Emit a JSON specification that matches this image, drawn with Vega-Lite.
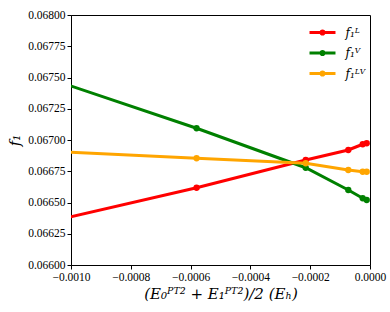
{
  "$schema": "https://vega.github.io/schema/vega-lite/v6.json",
  "width": 299,
  "height": 250,
  "autosize": {"type": "none"},
  "padding": {"left": 71, "top": 15, "right": 20, "bottom": 47},
  "background": "white",
  "config": {
    "view": {"stroke": "black", "strokeWidth": 1},
    "axis": {
      "grid": false,
      "domainColor": "black",
      "tickColor": "black",
      "tickSize": 4,
      "labelColor": "black",
      "labelFont": "Liberation Serif",
      "labelFontSize": 11.5,
      "labelPadding": 2,
      "labelFlush": false,
      "titleColor": "black",
      "titleFont": "DejaVu Serif",
      "titleFontWeight": "normal",
      "titleFontStyle": "italic",
      "titleFontSize": 15
    }
  },
  "data": {
    "values": [
      {"x": -0.0015, "y": 0.06611, "s": "f₁ᴸ"},
      {"x": -0.00058, "y": 0.066618, "s": "f₁ᴸ"},
      {"x": -0.000215, "y": 0.06684, "s": "f₁ᴸ"},
      {"x": -0.0000726, "y": 0.06692, "s": "f₁ᴸ"},
      {"x": -0.0000244, "y": 0.066966, "s": "f₁ᴸ"},
      {"x": -0.000011, "y": 0.066974, "s": "f₁ᴸ"},
      {"x": -0.0015, "y": 0.067834, "s": "f₁ⱽ"},
      {"x": -0.00058, "y": 0.067094, "s": "f₁ⱽ"},
      {"x": -0.000215, "y": 0.066778, "s": "f₁ⱽ"},
      {"x": -0.0000726, "y": 0.0666, "s": "f₁ⱽ"},
      {"x": -0.0000244, "y": 0.066534, "s": "f₁ⱽ"},
      {"x": -0.000011, "y": 0.06652, "s": "f₁ⱽ"},
      {"x": -0.0015, "y": 0.066958, "s": "f₁ᴸⱽ"},
      {"x": -0.00058, "y": 0.066854, "s": "f₁ᴸⱽ"},
      {"x": -0.000215, "y": 0.066814, "s": "f₁ᴸⱽ"},
      {"x": -0.0000726, "y": 0.06676, "s": "f₁ᴸⱽ"},
      {"x": -0.0000244, "y": 0.066746, "s": "f₁ᴸⱽ"},
      {"x": -0.000011, "y": 0.066746, "s": "f₁ᴸⱽ"}
    ]
  },
  "encoding": {
    "x": {
      "field": "x",
      "type": "quantitative",
      "scale": {"domain": [-0.001, 0], "nice": false, "zero": false},
      "axis": {
        "values": [-0.001, -0.0008, -0.0006, -0.0004, -0.0002, 0],
        "format": ".4f",
        "title": "(E₀ᴾᵀ² + E₁ᴾᵀ²)/2 (Eₕ)",
        "titlePadding": 4
      }
    },
    "y": {
      "field": "y",
      "type": "quantitative",
      "scale": {"domain": [0.066, 0.068], "nice": false, "zero": false},
      "axis": {
        "values": [0.066, 0.06625, 0.0665, 0.06675, 0.067, 0.06725, 0.0675, 0.06775, 0.068],
        "format": ".5f",
        "title": "f₁",
        "titlePadding": 5
      }
    },
    "color": {
      "field": "s",
      "type": "nominal",
      "sort": null,
      "scale": {"domain": ["f₁ᴸ", "f₁ⱽ", "f₁ᴸⱽ"], "range": ["#ff0000", "#008000", "#ffa500"]},
      "legend": {
        "orient": "none",
        "legendX": 241,
        "legendY": 7,
        "title": null,
        "symbolType": "M-1.5,0L1.5,0M-0.18,0A0.18,0.18 0 1,0 0.18,0A0.18,0.18 0 1,0 -0.18,0",
        "symbolSize": 300,
        "symbolStrokeWidth": 3,
        "labelOffset": 12.5,
        "labelFont": "DejaVu Serif",
        "labelFontStyle": "italic",
        "labelFontSize": 12,
        "labelColor": "black",
        "rowPadding": 1.5
      }
    }
  },
  "layer": [
    {"mark": {"type": "line", "strokeWidth": 3, "clip": true}},
    {"mark": {"type": "point", "filled": true, "size": 40, "opacity": 1, "clip": true}}
  ]
}
